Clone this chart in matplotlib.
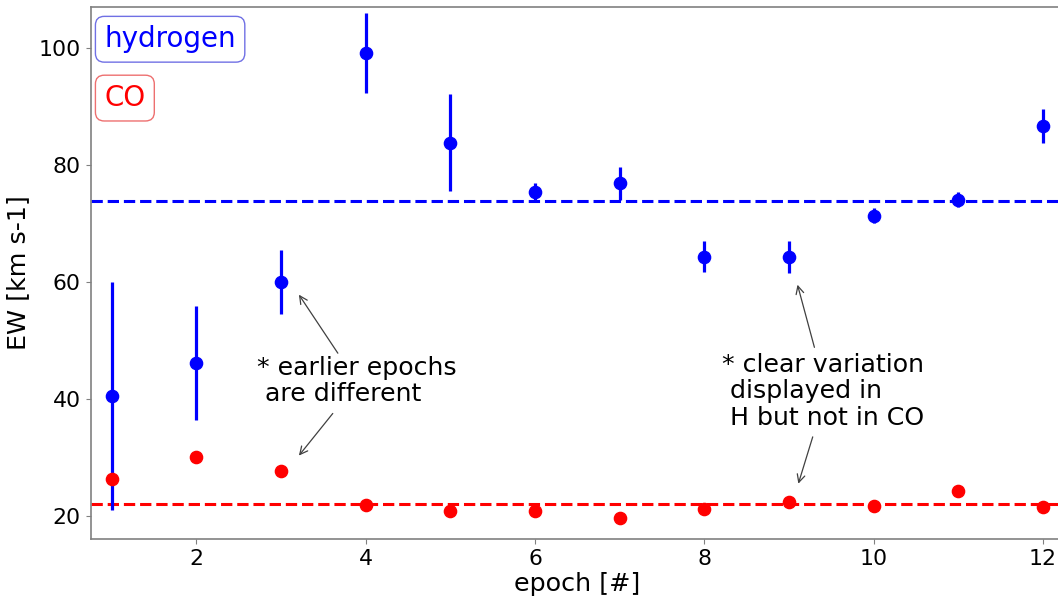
import matplotlib
matplotlib.use("Agg")
import matplotlib.pyplot as plt
import numpy as np

# epochs and equivalent widths
epoch = np.arange(1, 13)
ew_h = [40.5, 46.1, 60.0, 99.1, 83.8, 75.4, 76.8, 64.3, 64.2, 71.3, 74.0, 86.6]
ew_h_err = [19.5, 9.7, 5.5, 6.9, 8.3, 1.5, 2.8, 2.7, 2.7, 1.3, 1.3, 2.85]
ew_co = [26.3, 30.0, 27.6, 21.9, 20.85, 20.85, 19.6, 21.2, 22.45, 21.7, 24.3, 21.6]
mean_h = 73.8
mean_co = 22.0

fig = plt.figure(figsize=(10.58, 5.99), dpi=100)
ax = fig.add_axes([0.0857, 0.0997, 0.9201, 0.889])

# mean levels
ax.axhline(mean_h, color='blue', ls='--', lw=2.2, zorder=1)
ax.axhline(mean_co, color='red', ls='--', lw=2.2, zorder=1)

# data points
ax.errorbar(epoch, ew_h, yerr=ew_h_err, fmt='o', color='blue', ms=8.8,
            elinewidth=2.3, capsize=0, zorder=3)
ax.plot(epoch, ew_co, 'o', color='red', ms=8.8, zorder=3)

ax.set_xlim(0.75, 12.25)
ax.set_ylim(16, 107)
ax.set_xticks([2, 4, 6, 8, 10, 12])
ax.set_yticks([20, 40, 60, 80, 100])
ax.tick_params(labelsize=15.8, color='0.5', length=3.5)
for s in ax.spines.values():
    s.set_color('0.5')
    s.set_linewidth(1.2)
ax.spines['right'].set_visible(False)  # cut off in the original

ax.set_xlabel('epoch [#]', fontsize=18.3, labelpad=2)
ax.set_ylabel('EW [km s-1]', fontsize=18.3, labelpad=6)

# labels in boxes
ax.text(0.014, 0.939, 'hydrogen', color='blue', fontsize=20, ha='left', va='center',
        transform=ax.transAxes,
        bbox=dict(boxstyle='round,pad=0.32', fc='white', ec=(0.2, 0.2, 0.85, 0.7), lw=1))
ax.text(0.014, 0.8285, 'CO', color='red', fontsize=20, ha='left', va='center',
        transform=ax.transAxes,
        bbox=dict(boxstyle='round,pad=0.32', fc='white', ec=(0.9, 0.2, 0.2, 0.7), lw=1))

# annotations
ax.text(2.71, 43.1, '* earlier epochs\n are different', fontsize=18.2,
        ha='left', va='center', linespacing=1.12)
arrow = dict(arrowstyle='->', color='0.25', lw=0.9, shrinkA=0, shrinkB=0,
             mutation_scale=14)
ax.annotate('', xy=(3.21, 57.8), xytext=(3.67, 47.8), arrowprops=arrow)
ax.annotate('', xy=(3.21, 30.3), xytext=(3.61, 37.5), arrowprops=arrow)

ax.text(8.21, 41.3, '* clear variation\n displayed in\n H but not in CO', fontsize=18.2,
        ha='left', va='center', linespacing=1.12)
ax.annotate('', xy=(9.10, 59.5), xytext=(9.30, 48.8), arrowprops=arrow)
ax.annotate('', xy=(9.11, 25.5), xytext=(9.28, 33.5), arrowprops=arrow)

fig.savefig('out.png', dpi=100)
